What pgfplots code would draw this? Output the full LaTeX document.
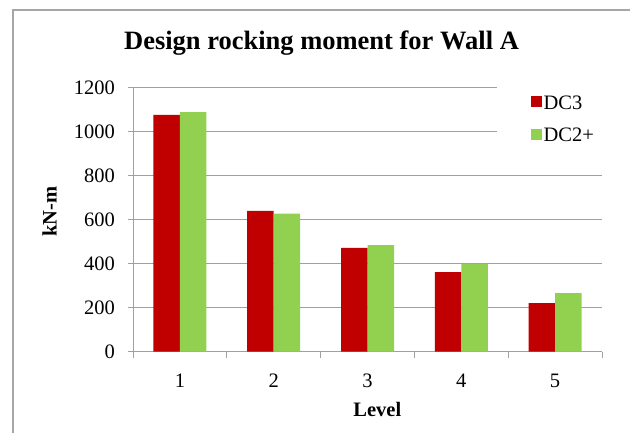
\documentclass[border=0pt]{standalone}
\usepackage{fontspec}
\setmainfont{Liberation Serif}
\usepackage{pgfplots}
\usepackage{pgfplotstable}
\pgfplotsset{compat=1.18}
\definecolor{dcred}{HTML}{C00000}
\definecolor{dcgreen}{HTML}{92D050}
\definecolor{gridgray}{HTML}{A0A0A0}
\definecolor{bordergray}{HTML}{A6A6A6}
\pgfplotstableread{
level dcthree dctwo
1 1076 1089
2 640 628
3 472 484
4 362 399
5 221 266
}\datatable
\begin{document}
\begin{tikzpicture}[x=1bp,y=1bp]
\path[use as bounding box] (0,0) rectangle (630,433);
\begin{scope}
\clip (0,0) rectangle (630,433);
\draw[bordergray, line width=1.2bp] (13,423) rectangle (700,-50);
\end{scope}
\begin{axis}[
  at={(133bp,81.3bp)}, anchor=south west,
  scale only axis, width=469bp, height=264bp,
  ymin=0, ymax=1200, xmin=0.5, xmax=5.5,
  ytick={0,200,...,1200},
  xtick={1,2,3,4,5},
  minor xtick={0.5,1.5,2.5,3.5,4.5,5.5},
  major x tick style={draw=none},
  tick align=outside,
  major tick length=5bp,
  minor tick length=6bp,
  tick style={gridgray, line width=0.9bp},
  ymajorgrids,
  grid style={gridgray, line width=0.9bp},
  axis x line*=bottom, axis y line*=left,
  axis line style={gridgray, line width=0.9bp, -},
  /pgf/number format/assume math mode=true,
  /pgf/number format/1000 sep={},
  tick label style={font=\fontsize{20.5bp}{24bp}\selectfont, black},
  yticklabel style={anchor=east, inner xsep=0pt, xshift=-13bp},
  xticklabel style={anchor=base, yshift=-31.3bp},
  title={Design rocking moment for Wall A},
  title style={at={(0.402,1.1239)}, anchor=base, font=\bfseries\fontsize{26.5bp}{30bp}\selectfont},
  xlabel={Level}, ylabel={kN-m},
  label style={font=\bfseries\fontsize{20.5bp}{24bp}\selectfont},
  xlabel style={at={(0.521,-0.2436)}, anchor=base},
  ylabel style={at={(-0.1627,0.530)}, anchor=base},
  ybar=0pt, bar width=26.5bp,
  legend image code/.code={\fill[#1] (0bp,-3.7bp) rectangle (11bp,7.3bp);},
  legend style={at={(0.7761,1.0167)}, anchor=north west, fill=white, draw=none,
    inner xsep=34bp, inner ysep=10bp, row sep=12.5bp,
    font=\fontsize{20.5bp}{24bp}\selectfont,
    nodes={inner sep=1.5bp, text height=14.5bp, text depth=2.5bp}},
  legend cell align=left,
]
\addplot[fill=dcred, draw=none] table[x=level, y=dcthree] {\datatable};
\addplot[fill=dcgreen, draw=none] table[x=level, y=dctwo] {\datatable};
\legend{DC3, DC2+}
\end{axis}
\end{tikzpicture}
\end{document}
